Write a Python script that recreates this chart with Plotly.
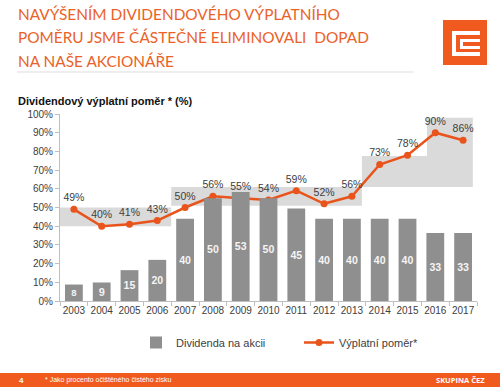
import plotly.graph_objects as go

# ---------------- data ----------------
years = [str(y) for y in range(2003, 2018)]
dividend = [8, 9, 15, 20, 40, 50, 53, 50, 45, 40, 40, 40, 40, 33, 33]
payout = [49, 40, 41, 43, 50, 56, 55, 54, 59, 52, 56, 73, 78, 90, 86]
y_ticks = [0, 10, 20, 30, 40, 50, 60, 70, 80, 90, 100]
y_tick_labels = [f"{v}%" for v in y_ticks]

# target payout-ratio bands (year from, year to, low %, high %)
band_from = [2002.5, 2006.5, 2013.36, 2015.7]
band_to = [2006.5, 2013.36, 2015.7, 2017.35]
band_low = [40, 51, 61, 61]
band_high = [50, 61, 77.5, 98]

title_lines = ["NAVÝŠENÍM DIVIDENDOVÉHO VÝPLATNÍHO",
               "POMĚRU JSME ČÁSTEČNĚ ELIMINOVALI  DOPAD",
               "NA NAŠE AKCIONÁŘE"]
subtitle = "Dividendový výplatní poměr * (%)"
footnote = "* Jako procento očištěného čistého zisku"

# ---------------- styling ----------------
W, H = 500, 387
L, R, T, B = 60, 23, 114, 86
PW, PH = W - L - R, H - T - B
ORANGE = "#E8541B"
FOOT = "#F05A1E"
GRAY_BAR = "#8f8f8f"
BAND = "#dadada"
AXIS = "#bfbfbf"
TXT = "#404040"
FONT = "Liberation Sans, Arial, sans-serif"


def px_x(x):
    return (x - L) / PW


def px_y(y):
    return (H - B - y) / PH


fig = go.Figure()

fig.add_trace(go.Bar(
    x=years, y=dividend, name="Dividenda na akcii", yaxis="y2",
    marker=dict(color=GRAY_BAR, line=dict(width=0)), width=0.64,
    text=[str(v) for v in dividend], textposition="inside",
    insidetextanchor="middle", textangle=0,
    textfont=dict(color="#f4f4f4", size=11, family=FONT, weight="bold"),
    hoverinfo="skip",
))

fig.add_trace(go.Scatter(
    x=years, y=payout, name="Výplatní poměr*", mode="lines+markers+text",
    line=dict(color=ORANGE, width=2.5), marker=dict(color=ORANGE, size=7),
    text=[f"{v}%" for v in payout], textposition="top center",
    textfont=dict(color=TXT, size=10.5, family=FONT), cliponaxis=False,
))

shapes = []
for x0, x1, lo, hi in zip(band_from, band_to, band_low, band_high):
    shapes.append(dict(type="rect", xref="x", yref="y", x0=x0 - 2003, x1=x1 - 2003,
                       y0=lo, y1=hi, fillcolor=BAND, line=dict(width=0), layer="below"))


def prect(x0, y0, x1, y1, color):
    return dict(type="rect", xref="paper", yref="paper", x0=px_x(x0), x1=px_x(x1),
                y0=px_y(y1), y1=px_y(y0), fillcolor=color, line=dict(width=0), layer="above")


# title rule
shapes.append(dict(type="line", xref="paper", yref="paper", x0=px_x(17), x1=px_x(413),
                   y0=px_y(72), y1=px_y(72), line=dict(color="#dddddd", width=1)))
# logo
shapes.append(prect(443, 20, 487, 65, FOOT))
for r in [(452, 31, 480, 35), (452, 31, 456, 56), (452, 52, 480, 56),
          (460, 39, 480, 42), (460, 39, 463, 49), (460, 46, 480, 49)]:
    shapes.append(prect(*r, "white"))
# footer band
shapes.append(prect(0, 373, 500, 387, FOOT))

annotations = []
for i, line in enumerate(title_lines):
    annotations.append(dict(xref="paper", yref="paper", x=px_x(16), y=px_y(14 + i * 23.5),
                            xanchor="left", yanchor="middle", showarrow=False, text=line,
                            font=dict(family="Lato, sans-serif", size=15.4, color="#EB6228")))
annotations.append(dict(xref="paper", yref="paper", x=px_x(16), y=px_y(101),
                        xanchor="left", yanchor="middle", showarrow=False, text=subtitle,
                        font=dict(family=FONT, size=11, color="#111111", weight="bold")))
annotations.append(dict(xref="paper", yref="paper", x=px_x(17), y=px_y(380),
                        xanchor="left", yanchor="middle", showarrow=False, text="4",
                        font=dict(family=FONT, size=8, color="white", weight="bold")))
annotations.append(dict(xref="paper", yref="paper", x=px_x(43), y=px_y(380),
                        xanchor="left", yanchor="middle", showarrow=False, text=footnote,
                        font=dict(family=FONT, size=7, color="white")))
annotations.append(dict(xref="paper", yref="paper", x=px_x(487), y=px_y(380),
                        xanchor="right", yanchor="middle", showarrow=False, text="SKUPINA ČEZ",
                        font=dict(family="Open Sans, sans-serif", size=7.5, color="white",
                                  weight="bold")))

fig.update_layout(
    width=W, height=H, margin=dict(l=L, r=R, t=T, b=B, pad=0, autoexpand=False),
    paper_bgcolor="white", plot_bgcolor="white",
    font=dict(family=FONT, color=TXT, size=10),
    showlegend=True,
    legend=dict(orientation="h", x=px_x(136), y=px_y(328), xanchor="left", yanchor="top",
                font=dict(size=11, color=TXT, family=FONT), itemwidth=30,
                entrywidth=118, bgcolor="rgba(0,0,0,0)"),
    xaxis=dict(type="category", range=[-0.5, 14.5], showline=True, linecolor=AXIS,
               ticks="outside", tickson="boundaries", ticklen=4, tickcolor=AXIS,
               showgrid=False, tickangle=0, automargin=False,
               tickfont=dict(size=10, color=TXT)),
    yaxis=dict(range=[0, 100], tickmode="array", tickvals=y_ticks, ticktext=y_tick_labels,
               showline=True, linecolor=AXIS, ticks="outside", ticklen=4, tickcolor=AXIS,
               showgrid=False, zeroline=False, automargin=False,
               tickfont=dict(size=10, color=TXT)),
    yaxis2=dict(range=[0, 100 / 1.1], overlaying="y", visible=False),
    shapes=shapes, annotations=annotations,
    bargap=0.36,
)

fig.write_html("out.html", config={"displayModeBar": False},
               post_script="document.body.style.margin='0';document.body.style.overflow='hidden';")
